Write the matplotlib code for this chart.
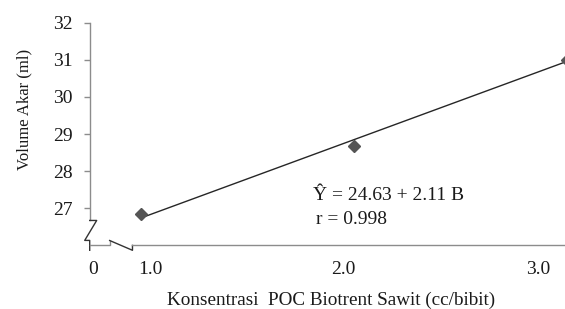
import matplotlib
matplotlib.use("Agg")
import matplotlib.pyplot as plt
import numpy as np

# Data
dose = [1.0, 2.0, 3.0]
volume = [26.85, 28.68, 31.0]
intercept = 24.63
slope = 2.11
xtick_labels = ["0", "1.0", "2.0", "3.0"]
xtick_pos = [0.775, 1.042, 1.948, 2.864]
ytick_vals = [27, 28, 29, 30, 31, 32]

plt.rcParams['font.family'] = ['Liberation Serif', 'DejaVu Serif']

W, H = 565, 309
fig = plt.figure(figsize=(W / 100, H / 100), dpi=100)
ax = fig.add_axes([89.7 / W, 1 - 245.4 / H, (W - 89.7) / W, (245.4 - 22.7) / H])
ax.set_xlim(0.759, 2.99)
ax.set_ylim(26, 32)

axis_col = '#8c8c8c'
txt_col = '#1a1a1a'

# regression line
xl = np.array([dose[0], dose[-1]])
ax.plot(xl, intercept + slope * xl, color='#262626', lw=1.0, zorder=3)
ax.plot(dose, volume, linestyle='none', marker='D', markersize=6.5,
        color='#555555', markeredgecolor='#555555', zorder=4, clip_on=True)

for s in ax.spines.values():
    s.set_visible(False)

ax.set_yticks(ytick_vals)
ax.set_yticklabels([str(v) for v in ytick_vals], fontsize=14, color=txt_col)
ax.tick_params(axis='y', direction='out', length=4, width=1, color=axis_col, pad=8)
ax.set_xticks(xtick_pos)
ax.set_xticklabels(xtick_labels, fontsize=14, color=txt_col)
ax.tick_params(axis='x', length=0, pad=11)

# custom axis lines with break marks (axes fraction coords)
tr = ax.transAxes
kw = dict(color=axis_col, lw=1.0, transform=tr, clip_on=False)
ax.plot([0, 0], [1.0, 0.112], **kw)
ax.plot([0, 0.0147, -0.0105, 0, 0], [0.112, 0.112, 0.0224, 0.0224, -0.022],
        color='#333333', lw=1.0, transform=tr, clip_on=False)
ax.plot([0, 0.042, 0.042], [0, 0, 0.022], **kw)
ax.plot([0.042, 0.090, 0.090], [0.022, -0.022, 0], color='#333333', lw=1.0,
        transform=tr, clip_on=False)
ax.plot([0.090, 1.0], [0, 0], **kw)

fig.text(24 / W, 1 - 109 / H, 'Volume Akar (ml)', fontsize=12, color=txt_col,
         rotation=90, ha='center', va='center')
fig.text(331 / W, 1 - 300 / H, 'Konsentrasi  POC Biotrent Sawit (cc/bibit)',
         fontsize=13.8, color=txt_col, ha='center', va='center')

fig.text(313 / W, 1 - 196 / H, 'Ŷ = 24.63 + 2.11 B', fontsize=14, color=txt_col,
         ha='left', va='center')
fig.text(316 / W, 1 - 219 / H, 'r = 0.998', fontsize=14, color=txt_col,
         ha='left', va='center')

fig.savefig('out.png', dpi=100)
